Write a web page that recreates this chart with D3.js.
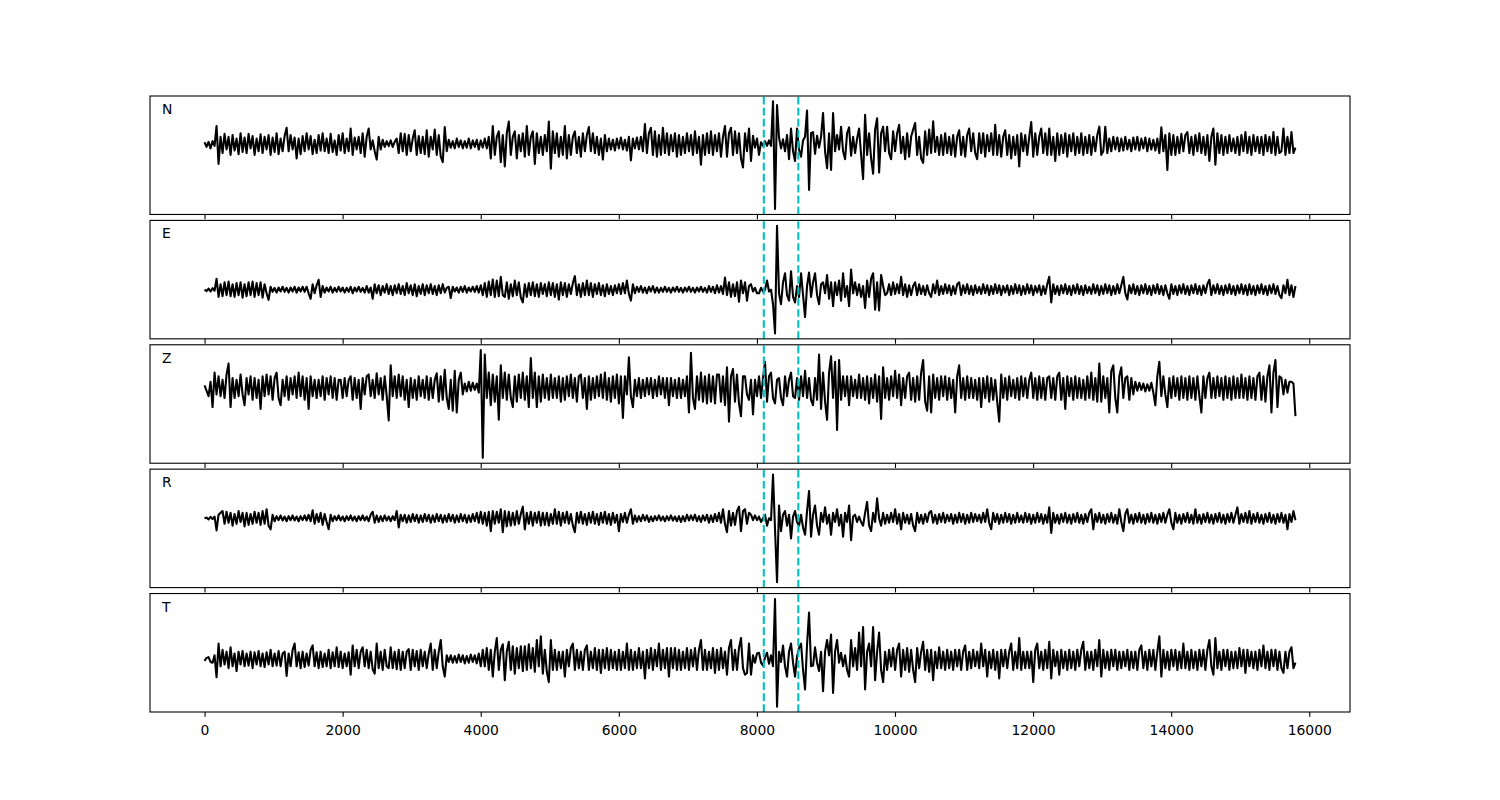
<!DOCTYPE html>
<html><head><meta charset="utf-8">
<script src="https://cdn.jsdelivr.net/npm/d3@7"></script>
<style>body{margin:0;background:#fff} svg text{font-family:"DejaVu Sans",sans-serif}</style>
</head><body><svg id="c" width="1500" height="800"></svg>
<script>
// ---- data (amplitudes, decimated, arbitrary units) ----
const channels = ["N","E","Z","R","T"];
const sampleCount = 15800;
const pickTimes = [8100, 8600];
const xTicks = [0,2000,4000,6000,8000,10000,12000,14000,16000];

const traceN = [
5,-8,6,-12,8,-5,50,-55,20,-25,
28,-15,20,-30,25,-18,15,-28,30,-22,
18,-25,28,-12,22,-30,15,-20,27,-25,
20,-15,25,-30,18,-22,30,-28,15,-20,
22,45,-20,25,-15,18,-40,15,-28,22,
-20,30,-15,22,-28,12,-25,25,-18,30,
-20,15,-25,28,-22,10,-30,25,-18,30,
-25,15,-20,43,-30,18,-15,20,-25,30,
-35,20,43,-15,10,-20,-43,20,-15,12,
-8,8,-6,10,-8,6,15,-25,30,-20,
28,-30,25,-20,15,38,-30,22,-25,20,
-28,38,-35,20,-15,40,-30,25,-35,-50,
47,-20,12,-10,8,-12,15,-8,10,-12,
8,-10,15,-12,10,-8,12,-15,10,-10,
15,-12,20,-40,50,-30,20,35,-50,25,
-62,30,62,-30,20,35,-40,25,-20,30,
-35,50,-30,20,35,-55,30,-25,20,-30,
25,-20,62,-68,35,-25,30,-35,20,-30,
50,-40,25,-30,20,35,-25,20,-35,30,
-20,25,47,-20,30,-25,20,-30,15,-43,
25,-20,15,-15,12,-18,15,-12,18,-15,
12,-18,20,-45,15,-12,18,-15,20,-20,
55,-25,30,45,-30,35,-35,25,-30,45,
-25,30,-30,25,-20,30,-35,25,-30,20,
-25,30,-20,25,-30,35,-25,20,-57,25,
-30,30,-25,35,-30,25,-20,30,-35,20,
50,-35,30,45,-30,35,-25,30,-40,-65,
30,-20,43,-47,23,-10,15,-30,5,-5,
8,-5,10,-5,118,-180,108,18,-12,13,
-20,25,-42,43,-20,-47,43,-15,-35,10,
20,93,-127,30,33,-27,23,-10,20,86,
-20,-67,30,-72,86,-20,25,-15,48,-20,
-42,30,46,-32,20,-25,15,43,-30,-97,
81,-30,30,-40,-82,40,71,-79,30,48,
-20,48,-25,-42,35,-20,30,53,-25,20,
-42,30,-35,20,40,58,-30,20,-40,-52,
35,-30,40,-25,63,-22,20,-30,25,-30,
30,-25,20,-30,25,-35,20,38,-30,20,
-35,25,43,-20,30,-25,-42,30,-25,30,
-35,25,-20,30,-30,53,-30,25,-35,20,
38,-30,25,-40,20,-30,25,-62,30,-20,
25,-30,20,61,-35,30,-30,20,43,-25,
30,-30,43,-30,20,-47,30,-30,25,-25,
30,-35,25,-20,30,-30,20,-25,30,-30,
20,-25,25,-30,20,-20,25,48,-30,-20,
48,-25,15,-20,20,-15,18,-20,15,-18,
20,-15,12,-20,18,-15,20,-18,15,-12,
18,-20,15,-15,12,-18,15,-25,46,-20,
25,-72,30,-30,25,-30,20,-25,28,-20,
25,33,-25,20,-30,25,-20,30,-25,20,
-30,25,-47,20,43,-57,30,-25,25,-30,
20,-25,25,-20,15,-25,20,-30,25,-20,
33,-25,20,-30,25,-20,20,-25,20,-30,
25,-20,20,-25,33,-30,20,-25,-20,43,
-30,20,-25,33,-25,-10];

const traceE = [
0,-4,3,-5,4,-3,30,-20,15,-18,
20,-15,22,-18,15,-20,18,-15,20,-22,
15,-18,20,-15,22,-20,18,-15,20,-22,
15,-10,-28,8,-6,5,-8,6,-5,8,
-6,5,-8,6,-5,8,-8,6,-5,8,
-6,8,-10,-25,15,-10,12,27,-20,10,
-8,6,-5,8,-8,5,-6,8,-5,6,
-8,5,-6,8,-10,6,-5,8,-6,5,
-8,10,-8,6,-25,15,-10,12,-15,10,
-8,15,-12,10,-15,12,-10,15,-12,10,
-15,18,-10,12,-15,15,-18,10,-12,15,
-15,12,-10,15,-12,10,-15,12,-10,15,
-8,5,8,-23,8,-5,6,-8,8,-6,
10,-8,6,-5,8,-6,10,-8,12,-15,
18,-20,22,-15,28,-20,25,-18,35,-15,
-20,20,-25,15,-18,25,-15,20,-22,-35,
15,-20,18,-15,20,-18,15,-20,18,-12,
15,-18,20,-15,18,-20,15,-27,20,-15,
18,-20,15,-12,18,37,-15,15,-20,18,
-15,25,-15,18,-20,15,-12,18,-15,12,
-18,15,-12,10,-15,12,-10,15,-12,18,
-10,25,-12,-30,15,-10,8,-6,10,-8,
6,-10,8,-5,10,-8,6,-8,5,-6,
8,-6,5,-8,6,-5,8,-6,5,-8,
6,-5,8,-6,5,-8,6,-5,8,-6,
5,-8,10,-6,8,-10,12,-8,10,-12,
33,-15,20,-20,15,-18,20,-33,25,-10,
20,-30,10,15,-5,5,-10,-10,5,-5,
0,25,-5,0,-40,-120,175,-10,-40,20,
45,-15,-30,50,-20,-35,10,-20,45,-15,
-75,10,47,-20,20,45,-15,-40,15,20,
-10,40,-25,20,-45,20,-15,25,-30,45,
-20,10,-45,55,-10,20,-15,15,-20,10,
-50,25,-20,30,45,-55,20,-57,40,10,
-15,-10,15,-15,20,-12,15,-10,35,-15,
15,-20,12,-15,10,20,-15,15,-12,10,
-15,12,-10,-20,15,-10,25,-15,10,-12,
15,-10,12,-15,10,-12,15,20,-15,12,
-10,15,-12,10,-15,12,-10,8,-12,15,
-10,12,-15,10,-12,15,-10,12,-15,10,
-8,12,-15,10,-12,15,-10,12,-15,10,
-12,15,-10,12,-15,10,-8,12,-15,10,
-12,15,35,-35,15,-12,10,-15,12,-10,
15,-12,10,-15,12,-10,15,-12,10,-15,
12,-10,8,-12,15,-10,12,-15,10,-12,
15,-10,12,-15,10,-12,15,-10,12,35,
-10,-27,12,-10,15,-12,10,-15,12,-10,
15,-12,10,-15,12,-10,15,-12,10,-15,
12,-10,-25,15,-12,10,-15,12,-10,15,
-12,10,-15,12,-10,15,-12,10,-15,12,
-10,15,27,-15,12,-10,15,-12,10,-15,
12,-10,15,-12,10,-15,12,-10,15,-12,
12,-15,15,-12,10,-15,12,-10,15,-12,
10,-15,12,-10,15,-12,10,-15,-23,12,
-10,27,-15,12,-20,10];

const traceZ = [
5,-10,-25,15,-55,40,-20,30,-25,20,
-30,35,65,-55,25,-30,20,-25,35,-20,
-50,25,-20,30,-35,25,-30,20,-60,30,
-25,35,-20,30,-35,25,40,-30,-50,20,
-25,30,-35,25,-20,30,-30,40,-25,30,
-35,25,-60,30,-25,20,-30,20,-25,30,
-35,25,-20,30,-30,25,-35,20,20,-30,
25,-25,20,30,-35,25,-30,20,-60,25,
-20,30,35,-25,20,-30,38,-20,25,-35,
30,-25,-92,60,-25,30,-30,35,-25,30,
-35,20,-55,25,-30,20,-35,30,-25,20,
-30,30,-35,25,-30,20,38,-40,30,-35,
48,-30,-60,20,-65,45,-70,20,40,-20,
10,-12,15,-10,12,-8,10,-15,102,-195,
90,-30,40,-50,35,-40,30,-90,60,-30,
40,-35,35,-30,-55,30,-40,35,-30,40,
-35,30,-55,80,-30,40,-55,30,-40,35,
-30,25,-35,35,-30,25,-30,30,-40,25,
-35,30,-25,35,-30,25,-40,30,35,-30,
25,-60,30,-35,25,-30,30,-25,35,-30,
40,-35,25,-40,30,-30,35,-45,30,-85,
30,-20,82,-25,-55,20,-25,25,-30,20,
-25,25,-20,25,-30,20,-25,30,-20,25,
-30,25,-50,25,-25,20,-30,25,-30,20,
-25,30,-70,95,-30,-60,30,-35,40,-40,
30,-45,35,-40,30,-45,35,35,-40,30,
-50,55,-95,30,50,-40,35,-45,-80,30,
30,-20,-35,20,-75,20,-25,30,-30,25,
70,-40,30,40,-30,-45,20,25,-30,-50,
30,-25,20,40,-25,-30,25,-35,30,-25,
45,-30,25,-35,-50,25,-35,90,-60,40,
-40,-90,40,85,-30,70,-118,75,-35,30,
-25,30,-50,30,-25,20,-30,35,-30,25,
-35,30,-45,25,-30,35,-40,30,-88,55,
-30,25,-35,30,-25,45,-30,35,-50,25,
-30,30,40,-35,25,-40,30,-35,40,75,
-40,-65,30,-70,35,-30,25,-35,30,-25,
30,-35,25,-30,20,-70,30,60,-30,25,
-35,30,-30,25,-30,20,-35,25,-55,25,
-30,30,-40,25,-35,20,-40,-95,35,-30,
25,-35,30,-25,20,-30,25,-35,30,-25,
25,-30,20,40,-30,25,-35,30,-30,25,
-35,25,30,-30,25,-35,30,40,-35,25,
-60,30,-25,25,-35,30,-30,25,-30,20,
-35,30,-30,40,-35,25,-40,65,-40,30,
-30,25,-70,45,60,-30,-70,30,55,-30,
25,30,-35,25,-20,15,-10,12,-8,10,
-12,8,-10,12,-15,-50,30,70,-25,30,
-20,-55,25,-30,30,-25,25,-35,30,-30,
25,-35,30,-30,25,-35,30,-25,-70,30,
-30,25,40,-30,25,-30,30,-25,25,-35,
30,-30,25,-35,30,-30,25,-30,35,-30,
25,-35,30,-30,25,-35,30,40,-35,30,
-40,30,60,-70,40,75,-55,30,25,-20,
20,-15,15,15,10,-80];

const traceR = [
0,2,-3,4,-2,5,-33,10,15,20,
-15,18,-12,15,-20,12,-15,20,-10,15,
-22,15,-18,12,-15,18,-12,15,-18,20,
-15,25,-20,-30,10,-8,6,-5,8,-6,
5,-8,6,-5,8,-6,5,-8,6,-5,
8,-6,10,-8,22,-15,12,-10,15,-18,
12,-10,-30,10,-8,6,-5,8,-6,5,
-8,6,-5,8,-6,5,-8,6,-5,8,
-6,5,-8,10,18,-12,8,-10,6,-8,
8,-6,5,-8,6,-5,20,-25,10,-8,
10,-12,8,-10,12,-8,10,-12,8,-10,
12,-8,10,-12,8,-10,12,-8,10,-12,
8,-10,12,-8,10,-12,8,-10,12,-8,
10,-12,8,-10,12,-8,15,-12,18,-15,
15,-20,18,-35,20,-15,18,-12,25,-38,
20,-22,18,-20,15,-18,20,-15,12,32,
-30,15,-15,18,-20,15,-12,18,-20,15,
-18,15,-20,12,-15,25,-15,18,-20,15,
-12,18,-15,12,-20,-38,15,-12,18,-15,
12,-18,15,-12,18,-15,12,-18,15,-12,
18,-15,12,-18,15,-12,10,-35,12,-10,
15,-12,10,25,-15,8,-10,6,-8,10,
-6,8,-10,5,-8,6,-5,8,-6,5,
-8,6,-5,8,-6,5,-8,6,-10,6,
-8,10,-6,8,-5,10,-8,6,-10,8,
-6,10,-12,8,-10,12,-8,15,-12,25,
-15,-38,20,-20,15,-18,20,32,-35,20,
25,-15,15,10,-5,8,-5,5,-10,0,
10,-20,0,-5,120,-30,-175,35,-35,10,
20,-20,10,-55,5,20,-10,-20,10,-25,
-45,20,75,-50,10,35,-20,-45,15,-10,
30,-15,10,-45,15,-10,25,-20,10,-50,
15,-10,35,-60,5,10,-10,5,-10,-20,
15,45,-20,-35,15,-10,55,0,-20,15,
-15,10,-12,15,-10,25,-15,12,-30,15,
-12,10,-15,12,-20,-35,15,-12,10,-15,
12,-10,15,20,-12,10,-15,12,-10,15,
-12,10,-8,12,-15,10,-12,15,-10,12,
-15,10,-12,15,-10,12,-8,10,-12,15,
-10,25,-12,-30,15,-10,12,-15,10,-12,
15,-10,12,-15,10,-12,15,-10,8,-12,
15,-10,12,-15,10,-12,15,-10,12,-15,
10,-12,30,-40,15,-12,10,-15,12,-10,
15,-12,10,-15,12,-10,15,-12,10,-15,
12,-10,15,25,-30,12,-10,15,-12,10,
-15,12,-10,15,-12,10,-15,25,-10,-35,
12,25,-12,10,-15,12,-10,15,-12,10,
-15,12,-10,15,-12,10,-15,12,-10,15,
-12,10,25,-12,-30,15,-12,10,-15,12,
-10,15,-12,10,-15,25,-12,10,-15,12,
-10,15,-12,10,-15,12,-10,15,-12,10,
-15,12,-10,15,-12,10,30,-15,12,-10,
15,-12,20,-15,12,-10,15,-12,10,-15,
12,-10,15,-12,10,-15,12,-10,15,-12,
10,-30,12,-10,20,-5];

const traceT = [
-5,3,5,-8,-10,10,-50,42,-20,25,
-15,20,-25,32,-20,15,-33,20,-15,22,
-20,15,-18,20,-25,18,-15,22,-20,15,
-22,18,-15,25,-20,15,-18,22,-20,15,
20,-46,15,-20,25,42,-20,18,-25,20,
-22,15,-18,25,37,-20,18,-25,20,-22,
15,-20,25,-25,18,-20,32,-22,20,-25,
15,-20,18,-43,37,-20,25,-25,20,32,
-20,25,-25,20,-28,-40,42,-25,20,-30,
25,-20,-25,32,-25,20,-28,25,-30,20,
-25,20,27,-30,25,-20,22,-30,25,-20,
20,-25,15,42,-30,25,-25,20,52,-20,
-48,10,-8,10,-10,8,-10,12,-8,10,
-12,8,-10,12,-8,10,-12,15,-20,25,
-20,30,-30,25,-48,20,57,-30,25,40,
-58,20,47,-30,35,-40,30,-25,35,-33,
35,-30,40,-25,30,-35,52,-20,62,-40,
25,-35,-63,52,-30,25,-30,20,-25,20,
-48,25,-20,30,42,-30,25,-25,20,-30,
25,37,-30,20,-25,30,-30,25,-38,25,
-25,30,-30,25,-25,20,-30,25,-30,20,
-25,42,-30,25,-30,20,-25,30,-25,20,
-53,25,-25,30,-30,25,-20,42,-30,25,
-25,30,-48,30,-25,30,-30,25,-30,20,
-25,30,-30,25,-20,30,-30,25,52,-30,
25,-30,20,-25,30,-38,25,-30,30,-25,
20,-43,30,52,-30,25,-30,30,57,-25,
-43,-38,42,-43,10,-10,15,17,-10,-18,
5,17,-13,10,-20,164,-130,20,-8,37,
-20,-48,20,42,-10,-48,7,30,42,-30,
-83,40,127,-20,-18,32,-10,-33,20,-88,
20,52,10,67,-93,20,52,-10,17,-20,
10,-30,-48,52,-20,30,-30,72,-20,87,
-83,20,42,-20,87,-58,20,72,-30,-63,
20,-30,25,-20,30,-30,25,42,-48,25,
-30,30,-35,25,-30,-63,30,-25,20,47,
-30,25,-35,25,-58,20,-25,32,-25,20,
-30,25,-25,20,-30,25,-20,25,-30,20,
37,-30,20,-25,25,-20,20,-25,42,-20,
25,-48,20,-25,25,-30,20,-53,25,-20,
25,-25,20,42,-30,20,-25,57,-30,20,
-25,20,-25,20,-63,25,42,-25,20,-30,
25,-25,47,-53,25,-20,20,-43,25,-25,
20,-30,25,-25,20,-30,25,-20,25,47,
-30,20,-25,20,-30,25,-20,52,-48,25,
-25,20,-30,25,-20,25,-30,20,-25,20,
-20,25,-30,20,-25,20,-30,25,37,-25,
20,-30,25,-20,25,-30,20,62,-48,25,
-25,20,-30,25,-20,25,-30,20,-25,42,
-25,20,-30,25,-25,20,-30,25,-20,25,
-30,25,52,-20,-43,57,-25,20,-30,25,
-20,25,-30,20,-25,20,-25,30,-20,25,
-38,25,-20,20,-25,20,-30,25,-20,37,
-25,20,-30,25,-20,25,-30,20,-25,-38,
20,-25,20,32,-25,-10];

const traces = [traceN, traceE, traceZ, traceR, traceT];

// ---- layout ----
const W = 1500, H = 800;
const mLeft = 0.1*W, mRight = 0.9*W, mTop = 0.12*H, mBottom = 0.89*H;
const nP = channels.length, hspace = 0.05;
const ph = (mBottom - mTop) / (nP + (nP-1)*hspace);
const gap = ph*hspace;
const svg = d3.select("#c");

const pad = 0.05*sampleCount;
const x = d3.scaleLinear().domain([-pad, sampleCount + pad]).range([mLeft, mRight]);

channels.forEach((ch, p) => {
  const data = traces[p];
  const y0 = mTop + p*(ph + gap);
  const step = sampleCount / (data.length - 1);
  const [mn, mx] = d3.extent(data);
  const m = 0.05*(mx - mn);
  const y = d3.scaleLinear().domain([mn - m, mx + m]).range([y0 + ph, y0]);
  const g = svg.append("g");

  const clipId = "clip" + p;
  g.append("clipPath").attr("id", clipId).append("rect")
    .attr("x", mLeft).attr("y", y0).attr("width", mRight-mLeft).attr("height", ph);

  g.append("path").datum(data)
    .attr("clip-path", `url(#${clipId})`)
    .attr("fill", "none").attr("stroke", "#000").attr("stroke-width", 2.08)
    .attr("stroke-linejoin", "round").attr("stroke-linecap", "butt")
    .attr("d", d3.line().x((d,i) => x(i*step)).y(d => y(d)));

  pickTimes.forEach(t => {
    g.append("line")
      .attr("x1", x(t)).attr("x2", x(t)).attr("y1", y0 + ph).attr("y2", y0)
      .attr("stroke", "#00bfbf").attr("stroke-width", 2.08)
      .attr("stroke-dasharray", "7.7,3.3");
  });

  g.append("rect").attr("x", mLeft).attr("y", y0).attr("width", mRight-mLeft).attr("height", ph)
    .attr("fill", "none").attr("stroke", "#000").attr("stroke-width", 1.1);

  g.append("text").attr("x", mLeft + 0.01*(mRight-mLeft)).attr("y", y0 + 18)
    .attr("font-size", "13.9px").attr("fill", "#000").text(ch);

  const ax = g.append("g").attr("transform", `translate(0,${y0 + ph})`)
    .call(d3.axisBottom(x).tickValues(xTicks).tickSize(4.86).tickPadding(4.86)
      .tickFormat(p === nP-1 ? d3.format("d") : () => ""));
  ax.select(".domain").remove();
  ax.selectAll(".tick line").attr("stroke", "#000").attr("stroke-width", 1.1);
  ax.selectAll(".tick text").attr("font-family", "DejaVu Sans").attr("font-size", "13.9px")
    .attr("fill", "#000").attr("dy", null).attr("y", 23);
});
</script></body></html>
